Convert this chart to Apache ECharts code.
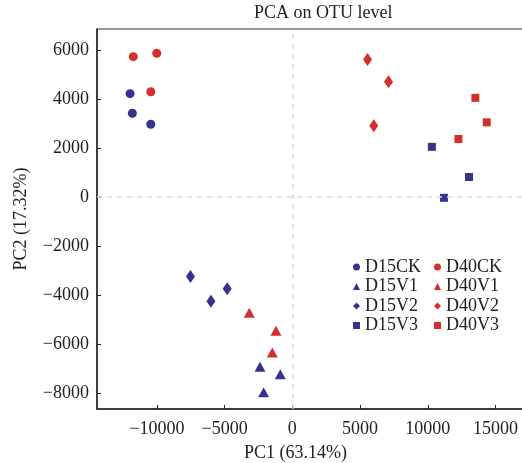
<!DOCTYPE html>
<html>
<head>
<meta charset="utf-8">
<script src="https://cdn.jsdelivr.net/npm/echarts@6/dist/echarts.min.js"></script>
<style>
  html, body { margin: 0; padding: 0; background: #fff; }
  #chart { width: 522px; height: 463px; }
</style>
</head>
<body>
<div id="chart"></div>
<script>
// PC1 / PC2 scores per group
const D15CK = [[-11980, 4220], [-11810, 3420], [-10450, 2970]];
const D40CK = [[-11740, 5730], [-10010, 5870], [-10450, 4300]];
const D15V1 = [[-2390, -6930], [-890, -7230], [-2120, -7970]];
const D40V1 = [[-3180, -4720], [-1210, -5460], [-1480, -6340]];
const D15V2 = [[-7520, -3240], [-6010, -4250], [-4810, -3740]];
const D40V2 = [[5550, 5620], [7100, 4710], [6010, 2910]];
const D15V3 = [[10300, 2050], [13040, 820], [11190, -30]];
const D40V3 = [[13510, 4050], [14350, 3050], [12260, 2370]];

const xTicks = [-10000, -5000, 0, 5000, 10000, 15000];
const yTicks = [-8000, -6000, -4000, -2000, 0, 2000, 4000, 6000];

const groups15 = ["D15CK", "D15V1", "D15V2", "D15V3"];
const groups40 = ["D40CK", "D40V1", "D40V2", "D40V3"];

const blue = "#34348f";
const red = "#d42f2c";
const font = "Liberation Serif";

const chart = echarts.init(document.getElementById("chart"));

function makeSeries(name, data, color, symbol, size) {
  return {
    name: name,
    type: "scatter",
    data: data,
    symbol: symbol,
    symbolSize: size,
    itemStyle: { color: color, opacity: 1 },
  };
}

const series = [
  makeSeries("D15CK", D15CK, blue, "circle", 9),
  makeSeries("D40CK", D40CK, red, "circle", 9),
  makeSeries("D15V1", D15V1, blue, "triangle", [11, 10]),
  makeSeries("D40V1", D40V1, red, "triangle", [11, 10]),
  makeSeries("D15V2", D15V2, blue, "diamond", [9, 13]),
  makeSeries("D40V2", D40V2, red, "diamond", [9, 13]),
  makeSeries("D15V3", D15V3, blue, "rect", 8),
  makeSeries("D40V3", D40V3, red, "rect", 8),
];

// dashed zero lines
series[0].markLine = {
  silent: true,
  symbol: ["none", "none"],
  label: { show: false },
  lineStyle: { color: "#ead9cd", type: [5, 5], width: 1.5 },
  data: [{ xAxis: 0 }, { yAxis: 0 }],
};

const legendBase = {
  orient: "vertical",
  top: 258,
  itemWidth: 7,
  itemHeight: 7,
  itemGap: 1.5,
  padding: 0,
  textStyle: { fontFamily: font, fontSize: 18, color: "#222", lineHeight: 18 },
};

const option = {
  animation: false,
  title: {
    text: "PCA on OTU level",
    left: 254,
    top: 4,
    padding: 0,
    textStyle: { fontFamily: font, fontSize: 18, fontWeight: "normal", color: "#222" },
  },
  legend: [
    Object.assign({}, legendBase, { left: 353, data: groups15 }),
    Object.assign({}, legendBase, { left: 434, data: groups40 }),
  ],
  grid: {
    left: 97,
    top: 29,
    width: 427,
    bottom: 54,
    outerBoundsMode: "none",
    containLabel: false,
    show: true,
    borderColor: "#333",
    borderWidth: 1,
  },
  xAxis: {
    type: "value",
    min: -14420,
    max: 17100,
    name: "PC1 (63.14%)",
    nameLocation: "middle",
    nameGap: 35,
    nameTextStyle: { fontFamily: font, fontSize: 18, color: "#222", padding: [0, 30, 0, 0] },
    axisLine: { show: true, onZero: false, lineStyle: { color: "#222", width: 1.5 } },
    axisTick: { show: true, inside: true, length: 4, customValues: xTicks, lineStyle: { color: "#222" } },
    axisLabel: {
      customValues: xTicks,
      margin: 11,
      fontFamily: font,
      fontSize: 18,
      color: "#222",
      formatter: (v) => (v < 0 ? "\u2212" + Math.abs(v) : String(v)),
    },
    splitLine: { show: false },
  },
  yAxis: {
    type: "value",
    min: -8650,
    max: 6860,
    name: "PC2 (17.32%)",
    nameLocation: "middle",
    nameGap: 67,
    nameRotate: 90,
    nameTextStyle: { fontFamily: font, fontSize: 18, color: "#222" },
    axisLine: { show: true, onZero: false, lineStyle: { color: "#222", width: 1.5 } },
    axisTick: { show: true, inside: true, length: 4, customValues: yTicks, lineStyle: { color: "#222" } },
    axisLabel: {
      customValues: yTicks,
      margin: 8,
      fontFamily: font,
      fontSize: 18,
      color: "#222",
      formatter: (v) => (v < 0 ? "\u2212" + Math.abs(v) : String(v)),
    },
    splitLine: { show: false },
  },
  series: series,
};

chart.setOption(option);
</script>
</body>
</html>
